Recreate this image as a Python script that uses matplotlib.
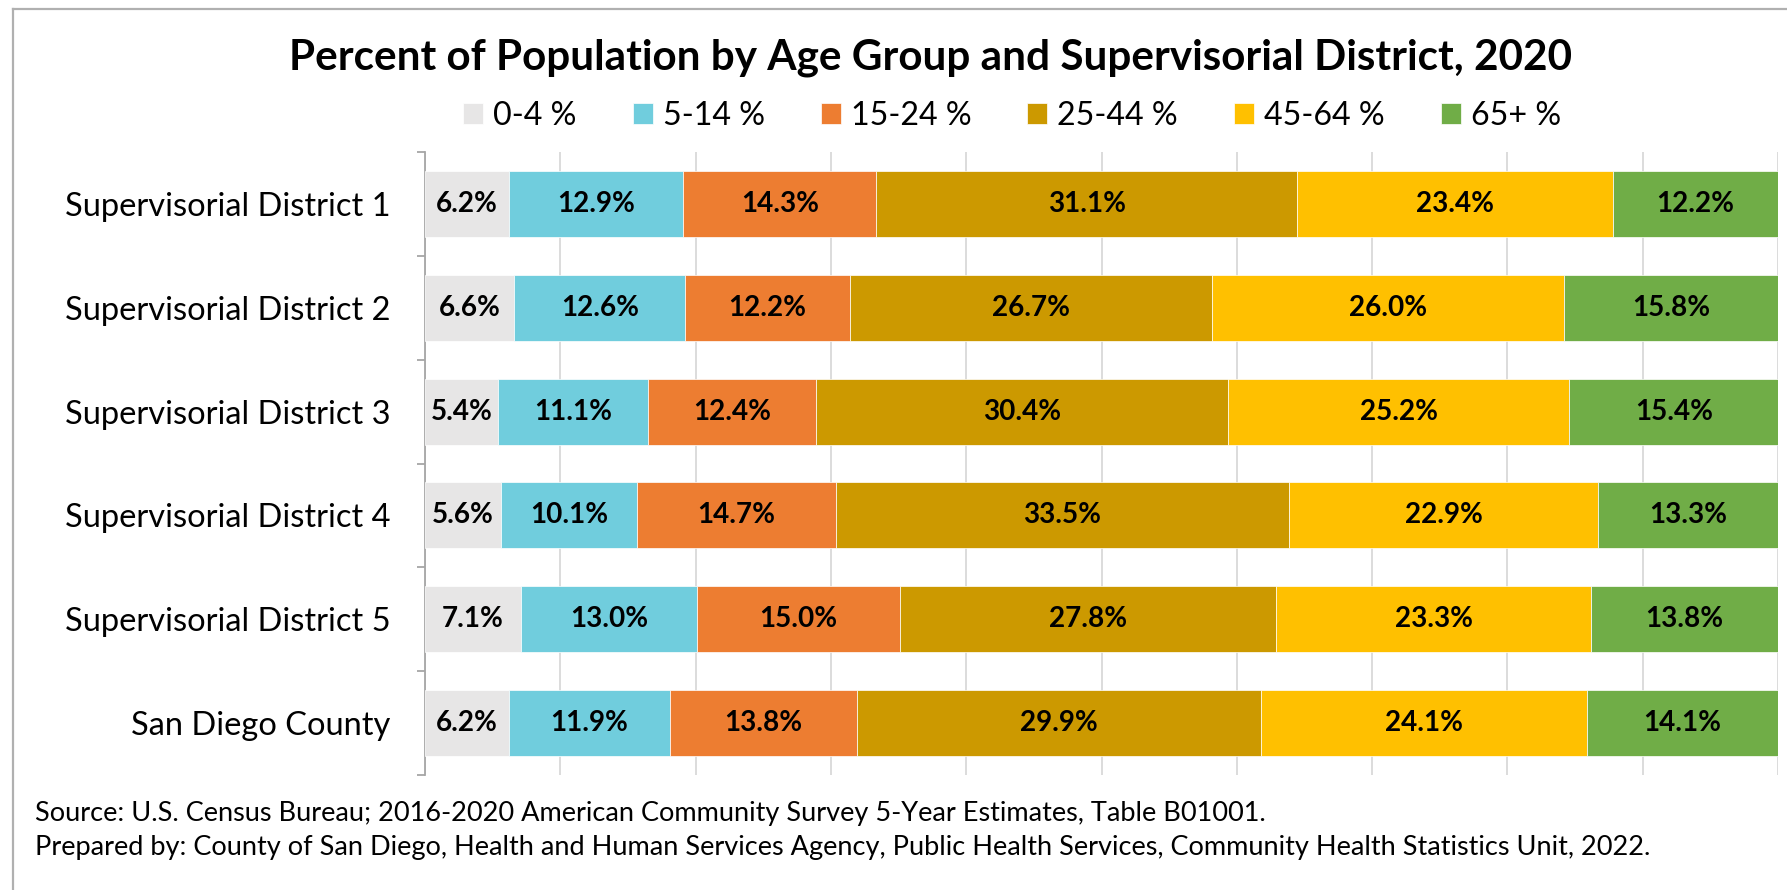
import matplotlib
matplotlib.use('Agg')
import matplotlib.pyplot as plt
from matplotlib.lines import Line2D
import numpy as np

# ---------------- data ----------------
categories = ['Supervisorial District 1', 'Supervisorial District 2',
              'Supervisorial District 3', 'Supervisorial District 4',
              'Supervisorial District 5', 'San Diego County']
age_groups = ['0-4 %', '5-14 %', '15-24 %', '25-44 %', '45-64 %', '65+ %']
age_0_4 = [6.2, 6.6, 5.4, 5.6, 7.1, 6.2]
age_5_14 = [12.9, 12.6, 11.1, 10.1, 13.0, 11.9]
age_15_24 = [14.3, 12.2, 12.4, 14.7, 15.0, 13.8]
age_25_44 = [31.1, 26.7, 30.4, 33.5, 27.8, 29.9]
age_45_64 = [23.4, 26.0, 25.2, 22.9, 23.3, 24.1]
age_65_plus = [12.2, 15.8, 15.4, 13.3, 13.8, 14.1]
colors = ['#E7E6E6', '#70CDDD', '#ED7D31', '#CC9900', '#FFC000', '#70AD47']
title = 'Percent of Population by Age Group and Supervisorial District, 2020'
source_lines = [
    'Source: U.S. Census Bureau; 2016-2020 American Community Survey 5-Year Estimates, Table B01001.',
    'Prepared by: County of San Diego, Health and Human Services Agency, Public Health Services, Community Health Statistics Unit, 2022.',
]

series = [age_0_4, age_5_14, age_15_24, age_25_44, age_45_64, age_65_plus]

# ---------------- figure ----------------
plt.rcParams['font.family'] = ['Lato', 'DejaVu Sans']
W, H, DPI = 1787, 890, 100
fig = plt.figure(figsize=(W / DPI, H / DPI), dpi=DPI)
fig.patch.set_facecolor('white')
renderer = fig.canvas.get_renderer()


def fit(text, target_px, weight='normal', base=20.0):
    t = fig.text(0, 0, text, fontsize=base, fontweight=weight)
    w = t.get_window_extent(renderer).width
    t.remove()
    return base * target_px / w


fs_title = fit(title, 1285, 'bold')
fs_cat = fit('Supervisorial District 1', 326)
fs_leg = fit('25-44 %', 121)
fs_bar = fit('31.1%', 78, 'bold')
fs_src = (fit(source_lines[0], 1174) + fit(source_lines[1], 1690)) / 2

ax = fig.add_axes([425 / W, 1 - 775 / H, (1778 - 425) / W, (775 - 152) / H])

vals = np.array(series, dtype=float)
totals = vals.sum(axis=0)
shares = vals / totals * 100
y = np.arange(len(categories))
left = np.zeros(len(categories))
handles = []
for i, grp in enumerate(age_groups):
    bars = ax.barh(y, shares[i], left=left, height=0.636, color=colors[i],
                   edgecolor='white', linewidth=0.5, label=grp, zorder=3)
    ax.bar_label(bars, labels=[f'{v:.1f}%' for v in series[i]],
                 label_type='center', fontsize=fs_bar, fontweight='bold',
                 color='black')
    handles.append(bars)
    left += shares[i]

ax.set_xlim(0, 100)
ax.set_ylim(len(categories) - 0.5, -0.5)
ax.set_xticks(np.arange(0, 101, 10))
ax.xaxis.grid(True, color='#D9D9D9', linewidth=1.3)
ax.set_axisbelow(True)
ax.tick_params(axis='x', length=0, labelbottom=False)
ax.set_yticks(y)
ax.set_yticklabels(categories, fontsize=fs_cat, color='black')
ax.set_yticks(np.arange(-0.5, len(categories), 1.0), minor=True)
ax.tick_params(axis='y', which='major', length=0, pad=25)
ax.tick_params(axis='y', which='minor', length=6, width=1.3, color='#A6A6A6',
               direction='out')
for s in ['top', 'right', 'bottom']:
    ax.spines[s].set_visible(False)
ax.spines['left'].set_color('#A6A6A6')
ax.spines['left'].set_linewidth(1.3)

# title
fig.text(930 / W, 1 - 58 / H, title, fontsize=fs_title, fontweight='bold',
         ha='center', va='center', color='black')

# legend
px_per_unit = fs_leg * DPI / 72
fig.legend(handles, age_groups, ncol=6, loc='center',
           bbox_to_anchor=(1012 / W, 1 - 116 / H), frameon=False,
           fontsize=fs_leg, handlelength=20 / px_per_unit,
           handleheight=20 / px_per_unit, handletextpad=10 / px_per_unit,
           columnspacing=56 / px_per_unit, borderpad=0, borderaxespad=0)

# source
fig.text(35 / W, 1 - 813 / H, source_lines[0], fontsize=fs_src, ha='left',
         va='center', color='black')
fig.text(35 / W, 1 - 848 / H, source_lines[1], fontsize=fs_src, ha='left',
         va='center', color='black')

# outer border (top and left)
fig.add_artist(Line2D([13 / W, 1], [1 - 9 / H, 1 - 9 / H], transform=fig.transFigure,
                      color='#B0B0B0', linewidth=1.6))
fig.add_artist(Line2D([13 / W, 13 / W], [1 - 9 / H, 0], transform=fig.transFigure,
                      color='#B0B0B0', linewidth=1.6))

fig.savefig('out.png', dpi=DPI, facecolor='white')
